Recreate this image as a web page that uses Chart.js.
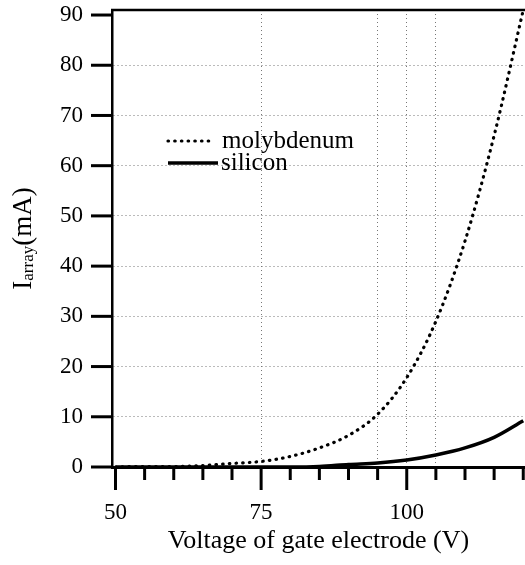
<!DOCTYPE html>
<html>
<head>
<meta charset="utf-8">
<script src="https://cdn.jsdelivr.net/npm/chart.js@4.4.0/dist/chart.umd.min.js"></script>
<style>
  html, body { margin: 0; padding: 0; background: #fff; overflow: hidden; }
  canvas { display: block; }
</style>
</head>
<body>
<canvas id="ivChart" width="525" height="565"></canvas>
<script>
// gate voltage (V)
const voltage = [50, 55, 60, 65, 70, 75, 80, 85, 90, 95, 100, 105, 110, 115, 120];
// array current (mA)
const molybdenum = [0, 0.1, 0.1, 0.3, 0.7, 1.1, 2.1, 3.8, 6.3, 10.5, 17.8, 29, 45, 66, 91];
const silicon = [0, 0, 0, 0, 0, 0, 0, 0.1, 0.5, 0.8, 1.4, 2.4, 3.8, 5.9, 9.2];

const xTickValues = [50, 55, 60, 65, 70, 75, 80, 85, 90, 95, 100, 105, 110, 115, 120];
const xLabelValues = [50, 75, 100];
const xGridValues = [75, 95, 100, 105];
const yTickValues = [0, 10, 20, 30, 40, 50, 60, 70, 80, 90];

const serif = '"Liberation Serif", "Times New Roman", serif';
const toPoints = (ys) => voltage.map((v, i) => ({ x: v, y: ys[i] }));

// top frame line + tick marks on both axes
const framePlugin = {
  id: "frame",
  afterDraw(chart) {
    const { ctx, chartArea } = chart;
    const xs = chart.scales.x;
    const ys = chart.scales.y;
    ctx.save();
    ctx.strokeStyle = "#000";
    ctx.lineWidth = 2.5;
    ctx.beginPath();
    ctx.moveTo(chartArea.left - 1, chartArea.top);
    ctx.lineTo(chartArea.right, chartArea.top);
    ctx.stroke();
    ctx.lineWidth = 3;
    xTickValues.forEach((v) => {
      const px = xs.getPixelForValue(v);
      const len = xLabelValues.includes(v) ? 23 : 13;
      ctx.beginPath();
      ctx.moveTo(px, chartArea.bottom);
      ctx.lineTo(px, chartArea.bottom + len);
      ctx.stroke();
    });
    yTickValues.forEach((v) => {
      const py = ys.getPixelForValue(v);
      ctx.beginPath();
      ctx.moveTo(chartArea.left - 21, py);
      ctx.lineTo(chartArea.left, py);
      ctx.stroke();
    });
    ctx.restore();
  },
};

// legend sits inside the plot, left of the curves
const legendPlugin = {
  id: "insideLegend",
  afterDatasetsDraw(chart) {
    const { ctx, chartArea } = chart;
    const x0 = chartArea.left + 56;
    const lineLens = [42, 50];
    const gaps = [12, 3];
    let y = chartArea.top + 131;
    ctx.save();
    chart.data.datasets.forEach((ds, i) => {
      ctx.strokeStyle = ds.borderColor;
      ctx.lineWidth = ds.borderWidth;
      ctx.lineCap = ds.borderCapStyle || "butt";
      ctx.setLineDash(ds.borderDash || []);
      ctx.beginPath();
      ctx.moveTo(x0, y);
      ctx.lineTo(x0 + lineLens[i], y);
      ctx.stroke();
      ctx.setLineDash([]);
      ctx.fillStyle = "#000";
      ctx.font = "25px " + serif;
      ctx.textBaseline = "alphabetic";
      ctx.fillText(ds.label, x0 + lineLens[i] + gaps[i], y + 7);
      y += 22;
    });
    ctx.restore();
  },
};

// y title with subscript: I_array(mA)
const yTitlePlugin = {
  id: "yTitle",
  afterDraw(chart) {
    const { ctx, chartArea } = chart;
    const cy = (chartArea.top + chartArea.bottom) / 2;
    const big = "27px " + serif;
    const small = "17px " + serif;
    const parts = [
      { t: "I", f: big, dy: 0 },
      { t: "array", f: small, dy: 2 },
      { t: "(mA)", f: big, dy: 0 },
    ];
    ctx.save();
    let total = 0;
    parts.forEach((p) => {
      ctx.font = p.f;
      p.w = ctx.measureText(p.t).width;
      total += p.w;
    });
    ctx.translate(31, cy);
    ctx.rotate(-Math.PI / 2);
    ctx.fillStyle = "#000";
    ctx.textBaseline = "alphabetic";
    let x = -total / 2;
    parts.forEach((p) => {
      ctx.font = p.f;
      ctx.fillText(p.t, x, p.dy);
      x += p.w;
    });
    ctx.restore();
  },
};

new Chart(document.getElementById("ivChart"), {
  type: "line",
  data: {
    datasets: [
      {
        label: "molybdenum",
        data: toPoints(molybdenum),
        borderColor: "#000",
        borderWidth: 3.2,
        borderDash: [0.5, 6.2],
        borderCapStyle: "round",
        pointRadius: 0,
        cubicInterpolationMode: "monotone",
      },
      {
        label: "silicon",
        data: toPoints(silicon),
        borderColor: "#000",
        borderWidth: 3.5,
        pointRadius: 0,
        cubicInterpolationMode: "monotone",
      },
    ],
  },
  options: {
    responsive: false,
    animation: false,
    devicePixelRatio: 1,
    layout: { padding: { left: 60, right: 0, top: 10, bottom: 0 } },
    plugins: {
      legend: { display: false },
      tooltip: { enabled: false },
    },
    scales: {
      x: {
        type: "linear",
        min: 49.4,
        max: 120.3,
        afterBuildTicks: (scale) => {
          scale.ticks = xTickValues.map((v) => ({ value: v }));
        },
        ticks: {
          autoSkip: false,
          maxRotation: 0,
          padding: 0,
          color: "#000",
          font: { family: serif, size: 23, lineHeight: 0.8 },
          callback: (v) => (xLabelValues.includes(v) ? String(v) : ""),
        },
        grid: {
          tickLength: 36.4,
          tickColor: "rgba(0,0,0,0)",
          lineWidth: 1,
          color: (c) => (c.tick && xGridValues.includes(c.tick.value) ? "#777" : "rgba(0,0,0,0)"),
        },
        border: { color: "#000", width: 3, dash: [1, 3] },
        title: {
          display: true,
          text: "Voltage of gate electrode (V)",
          color: "#000",
          font: { family: serif, size: 26 },
          padding: { top: 4, bottom: 8 },
        },
      },
      y: {
        min: 0,
        max: 91,
        afterBuildTicks: (scale) => {
          scale.ticks = yTickValues.map((v) => ({ value: v }));
        },
        ticks: {
          padding: 0,
          color: "#000",
          font: { family: serif, size: 23, lineHeight: 0.8 },
        },
        grid: {
          tickLength: 29,
          tickColor: "rgba(0,0,0,0)",
          lineWidth: 1,
          color: (c) => (c.tick && c.tick.value > 0 && c.tick.value < 90 ? "#777" : "rgba(0,0,0,0)"),
        },
        border: { color: "#000", width: 2.5, dash: [1, 3] },
      },
    },
  },
  plugins: [framePlugin, legendPlugin, yTitlePlugin],
});
</script>
</body>
</html>
